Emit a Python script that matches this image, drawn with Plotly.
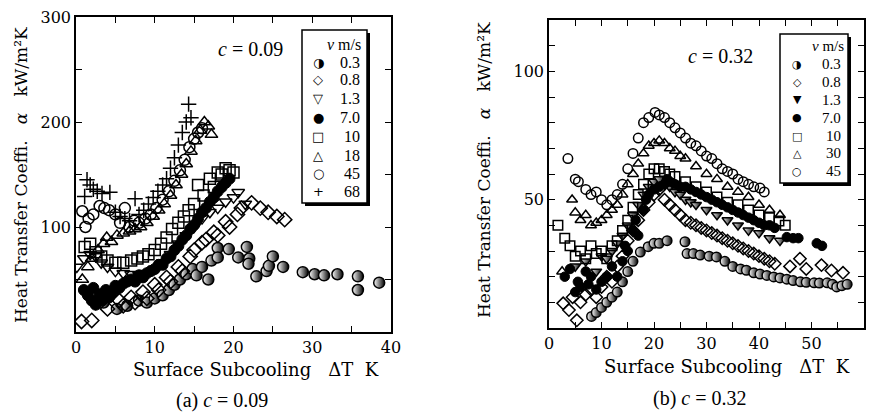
import plotly.graph_objects as go

W, H = 874, 414

# ---------------- Panel (a): c = 0.09 ----------------
a_v03_x = [3.5, 5.2, 6.5, 8.0, 9.0, 10.0, 11.0, 11.8, 12.5, 13.2, 14.0, 14.8, 15.3, 16.0, 16.8, 17.2, 18.0, 18.0, 19.4, 20.6, 21.7, 22.0, 21.9, 22.9, 24.2, 24.5, 25.0, 26.3, 28.8, 30.3, 31.5, 33.2, 35.8, 35.8, 38.5]
a_v03_y = [28, 22, 25, 30, 28, 32, 35, 40, 45, 50, 55, 60, 54, 62, 50, 68, 80, 71, 79, 71, 81, 70, 65, 53, 58, 63, 72, 62, 57, 55, 54, 55, 53, 40, 47]

a_v08_x = [0.7, 2.0, 2.5, 3.2, 4.0, 4.5, 5.5, 6.0, 7.0, 7.5, 8.5, 9.0, 10.0, 10.5, 11.5, 12.0, 13.0, 13.5, 14.5, 15.0, 16.0, 16.5, 17.5, 18.0, 19.0, 19.5, 20.5, 21.0, 22.3, 23.4, 24.4, 25.5, 26.5]
a_v08_y = [10, 11, 28, 32, 22, 36, 30, 25, 33, 28, 38, 32, 45, 40, 52, 48, 62, 58, 72, 78, 85, 88, 95, 92, 105, 100, 112, 118, 123, 118, 114, 110, 107]

a_v13_x = [0.1, 1.0, 1.8, 2.5, 3.2, 4.0, 5.0, 6.0, 7.0, 8.0, 9.0, 10.0, 11.0, 12.0, 13.0, 14.0, 15.0, 16.0, 17.0, 18.0, 19.0, 20.0, 20.6, 21.5]
a_v13_y = [62, 70, 74, 72, 66, 62, 58, 56, 55, 54, 56, 60, 66, 74, 84, 92, 100, 108, 114, 118, 124, 128, 133, 122]

a_v70_x = [1.0, 1.5, 2.0, 2.2, 2.5, 3.0, 3.3, 3.8, 4.2, 4.6, 5.0, 5.5, 6.0, 6.5, 7.0, 7.5, 8.0, 8.5, 9.0, 9.5, 10.0, 10.5, 11.0, 11.5, 12.0, 12.5, 13.0, 13.5, 14.0, 14.5, 15.0, 15.5, 16.0, 16.5, 17.0, 17.5, 18.0, 18.5, 19.0, 19.5]
a_v70_y = [40, 35, 30, 42, 26, 36, 30, 40, 33, 38, 44, 42, 46, 48, 50, 48, 54, 52, 56, 58, 60, 64, 64, 70, 72, 78, 82, 88, 92, 98, 102, 108, 114, 118, 124, 128, 134, 138, 142, 146]

a_v10_x = [1.1, 1.8, 2.5, 3.2, 4.0, 5.0, 6.0, 7.0, 7.8, 8.5, 9.2, 10.0, 10.8, 11.5, 12.2, 13.0, 13.7, 14.3, 15.0, 15.5, 16.2, 17.0, 17.5, 18.0, 18.5, 19.0, 19.5, 20.0]
a_v10_y = [81, 84, 76, 72, 68, 66, 66, 68, 70, 72, 74, 78, 84, 90, 98, 104, 110, 116, 122, 140, 130, 146, 138, 152, 150, 156, 154, 152]

a_v18_x = [0.8, 1.5, 2.0, 2.8, 3.5, 3.9, 4.5, 5.2, 6.0, 6.8, 7.5, 8.2, 9.0, 9.8, 10.5, 11.2, 12.0, 12.7, 13.4, 14.0, 14.6, 15.2, 15.8, 16.3, 16.8, 17.2]
a_v18_y = [50, 62, 70, 78, 84, 90, 86, 92, 94, 96, 98, 100, 104, 110, 116, 122, 130, 140, 150, 160, 172, 182, 192, 200, 196, 188]

a_v45_x = [0.8, 1.2, 1.6, 2.2, 3.0, 3.6, 4.2, 5.0, 5.6, 6.2, 6.8, 7.4, 8.0, 8.8, 9.5, 10.2, 11.0, 11.8, 12.5, 13.2, 13.8, 14.4, 15.0, 15.5, 16.0]
a_v45_y = [115, 100, 108, 112, 120, 118, 116, 112, 104, 118, 100, 106, 104, 108, 112, 118, 126, 134, 144, 154, 164, 176, 184, 190, 194]

a_v68_x = [1.1, 1.4, 1.8, 2.2, 2.7, 3.3, 4.3, 5.0, 5.6, 6.2, 6.8, 7.5, 8.0, 8.6, 9.2, 9.8, 10.4, 11.0, 11.5, 12.0, 12.5, 13.0, 13.5, 14.0, 14.3, 14.6]
a_v68_y = [129, 145, 140, 136, 134, 132, 133, 114, 110, 108, 106, 127, 112, 116, 122, 128, 134, 140, 146, 156, 166, 178, 190, 200, 217, 204]

# ---------------- Panel (b): c = 0.32 ----------------
b_v03_x = [8.1, 9.0, 10.0, 11.0, 12.0, 13.0, 14.0, 15.0, 16.0, 17.4, 18.9, 20.0, 21.0, 22.5, 25.9, 26.3, 27.5, 28.8, 30.5, 31.9, 33.5, 35.0, 36.5, 37.6, 39.0, 40.2, 41.5, 42.8, 44.0, 45.3, 46.5, 47.9, 49.0, 50.5, 51.5, 53.0, 54.0, 54.8, 55.8, 56.8]
b_v03_y = [4.5, 6, 8, 10, 12, 14, 18, 22, 26, 29.6, 31.7, 33, 33, 34, 33.6, 29, 29, 28.4, 28, 27.7, 26, 24, 23, 22.5, 21.5, 21, 20.5, 19.9, 19.5, 19, 18.5, 18, 17.8, 17.6, 17.5, 17.6, 17, 16, 16.5, 17]

b_v08_x = [2.7, 3.8, 5.3, 4.5, 6.0, 7.0, 8.0, 9.0, 10.0, 11.0, 12.0, 13.0, 14.0, 15.0, 16.0, 17.0, 18.0, 19.0, 20.0, 21.0, 22.0, 23.0, 24.0, 25.0, 26.0, 27.0, 28.0, 29.0, 30.0, 31.0, 32.0, 33.0, 34.0, 35.0, 36.0, 37.0, 38.0, 39.0, 40.0, 41.0, 42.0, 43.0, 45.9, 47.8, 49.0, 51.9, 53.8, 56.0]
b_v08_y = [9.6, 7, 3, 12, 10, 13, 15, 12, 16, 20, 18, 24, 28, 34, 38, 42, 46, 49, 52, 54, 50, 48, 46, 44, 42, 41, 40, 39, 38, 37, 36, 35, 34, 33, 32, 31, 30, 29, 28, 27, 26, 25, 24, 27, 23, 24.5, 22.4, 21.5]

b_v13_x = [5, 7, 9, 10, 11, 12, 13, 14, 15, 16, 17, 18, 19, 20, 21, 22, 23, 24, 25, 26, 27, 28, 30, 32, 34, 36, 38, 40, 42, 44]
b_v13_y = [24, 26, 22, 28, 27, 30, 33, 36, 40, 44, 48, 52, 55, 57, 58, 56, 55, 53, 52, 50, 49, 48, 46, 44, 42, 40, 38, 37, 35, 34]

b_v70_x = [3.0, 4.0, 5.0, 5.5, 6.0, 7.0, 7.5, 8.0, 9.0, 10.0, 11.0, 12.0, 13.0, 14.0, 14.5, 15.0, 16.0, 16.5, 17.0, 18.0, 18.5, 19.0, 20.0, 21.0, 22.0, 22.5, 23.0, 24.0, 25.0, 26.0, 27.0, 28.0, 29.0, 30.0, 31.0, 32.0, 33.0, 34.0, 35.0, 36.0, 37.0, 38.0, 39.0, 40.0, 41.0, 42.0, 43.0, 45.3, 46.5, 47.5, 51.0, 52.0]
b_v70_y = [20, 23, 14, 18, 16, 22, 17, 20, 15, 18, 20, 24, 20, 26, 32, 30, 38, 42, 36, 46, 50, 52, 54, 55, 56, 58, 57, 56, 55, 55, 54, 53, 52, 51, 50, 49, 48, 47, 46, 45, 44, 43, 42, 41, 40, 40, 39, 35.4, 35, 35, 33, 32]

b_v10_x = [1.7, 3.0, 4.0, 5.0, 6.0, 7.0, 8.0, 9.0, 10.0, 11.0, 12.0, 13.0, 14.0, 15.0, 16.0, 17.0, 18.0, 19.0, 20.0, 21.0, 22.0, 23.0, 24.0, 26.0, 28.0, 30.0, 32.0, 34.0, 36.0, 38.0, 40.0, 42.0, 43.8, 45.0]
b_v10_y = [40, 35, 32, 28, 30, 27, 32, 29, 30, 27, 32, 34, 38, 42, 47, 52, 56, 60, 62, 62, 61, 60, 59, 57, 55, 53, 51, 49, 48, 46, 44, 43, 41.7, 40]

b_v30_x = [2.5, 4.4, 5.0, 6.0, 7.0, 8.0, 9.0, 10.0, 11.0, 12.0, 13.0, 14.0, 15.0, 16.0, 17.0, 18.0, 19.0, 20.0, 21.0, 22.0, 23.0, 24.0, 25.0, 26.0, 28.0, 30.0, 32.0, 34.0, 36.0, 38.0, 40.0, 42.0, 44.0]
b_v30_y = [22, 50, 45, 42, 44, 40, 41, 42, 44, 46, 48, 52, 56, 60, 64, 68, 71, 72, 73, 72, 70, 69, 67, 66, 63, 60, 58, 55, 53, 51, 48, 46, 44]

b_v45_x = [3.6, 5.0, 5.6, 7.0, 8.0, 9.0, 10.0, 11.0, 12.0, 13.0, 14.0, 15.0, 16.0, 17.0, 18.0, 19.0, 20.2, 21.0, 22.0, 23.0, 24.0, 25.0, 26.0, 27.0, 28.0, 29.0, 30.0, 31.0, 32.0, 33.0, 34.0, 35.0, 36.0, 37.0, 38.0, 39.0, 40.2, 41.0]
b_v45_y = [66, 58, 57, 54, 52, 53, 50, 48, 50, 52, 56, 62, 68, 74, 80, 82, 84, 83, 82, 80, 78, 76, 74, 72, 71, 69, 67, 66, 64, 62, 61, 60, 58, 57, 56, 55, 54.5, 53]

a_labels = ["0.3", "0.8", "1.3", "7.0", "10", "18", "45", "68"]
b_labels = ["0.3", "0.8", "1.3", "7.0", "10", "30", "45"]
a_glyphs = ["◑", "◇", "▽", "●", "□", "△", "○", "+"]
b_glyphs = ["◑", "◇", "▼", "●", "□", "△", "○"]

SERIF = "Liberation Serif"
WIDE = "DejaVu Serif"

def mk(symbol, size, kind):
    if kind == "half":
        return dict(symbol=symbol, size=size, color="white",
                    gradient=dict(type="horizontal", color="black"),
                    line=dict(color="black", width=1.5))
    if kind == "fill":
        return dict(symbol=symbol, size=size, color="black",
                    line=dict(color="black", width=1))
    return dict(symbol=symbol, size=size, color="black",
                line=dict(color="black", width=1.5))

a_series = [
    (a_v03_x, a_v03_y, "circle", "half"),
    (a_v08_x, a_v08_y, "diamond-open", "open"),
    (a_v13_x, a_v13_y, "triangle-down-open", "open"),
    (a_v70_x, a_v70_y, "circle", "fill"),
    (a_v10_x, a_v10_y, "square-open", "open"),
    (a_v18_x, a_v18_y, "triangle-up-open", "open"),
    (a_v45_x, a_v45_y, "circle-open", "open"),
    (a_v68_x, a_v68_y, "cross-thin-open", "open"),
]
b_series = [
    (b_v03_x, b_v03_y, "circle", "half"),
    (b_v08_x, b_v08_y, "diamond-open", "open"),
    (b_v13_x, b_v13_y, "triangle-down", "half"),
    (b_v70_x, b_v70_y, "circle", "fill"),
    (b_v10_x, b_v10_y, "square-open", "open"),
    (b_v30_x, b_v30_y, "triangle-up-open", "open"),
    (b_v45_x, b_v45_y, "circle-open", "open"),
]

fig = go.Figure()
for (xs, ys, sym, kind), lab in zip(a_series, a_labels):
    fig.add_trace(go.Scatter(x=xs, y=ys, mode="markers", name="v = " + lab + " m/s",
                             marker=mk(sym, 11, kind), xaxis="x", yaxis="y",
                             showlegend=False))
for (xs, ys, sym, kind), lab in zip(b_series, b_labels):
    fig.add_trace(go.Scatter(x=xs, y=ys, mode="markers", name="v = " + lab + " m/s",
                             marker=mk(sym, 9.5, kind), xaxis="x2", yaxis="y2",
                             showlegend=False))

def px(x):
    return x / W

def py(y):
    return 1 - y / H

axis_common = dict(showline=True, linecolor="black", linewidth=1.5, mirror="allticks",
                   ticks="inside", ticklen=6, tickwidth=1.3, tickcolor="black",
                   showgrid=False, zeroline=False, automargin=False,
                   tickfont=dict(family=WIDE, size=16, color="black"))
minor_common = dict(ticks="inside", ticklen=6, tickcolor="black", tickwidth=1.3, showgrid=False)

fig.update_layout(
    width=W, height=H, margin=dict(l=0, r=0, t=0, b=0, autoexpand=False),
    paper_bgcolor="white", plot_bgcolor="white", showlegend=False,
    xaxis=dict(domain=[px(76), px(391)], range=[0, 40], tickvals=[0, 10, 20, 30, 40],
               minor=dict(dtick=5, **minor_common), anchor="y", **axis_common),
    yaxis=dict(domain=[py(332), py(17)], range=[0, 300], tickvals=[100, 200, 300],
               minor=dict(dtick=50, **minor_common), anchor="x", **axis_common),
    xaxis2=dict(domain=[px(549), px(864)], range=[0, 60], tickvals=[0, 10, 20, 30, 40, 50, 60],
                minor=dict(dtick=5, **minor_common), anchor="y2", **axis_common),
    yaxis2=dict(domain=[py(328), py(20)], range=[0, 120], tickvals=[50, 100],
                minor=dict(dtick=10, **minor_common), anchor="x2", **axis_common),
)

ann = []
def add_text(text, x, y, size, family=SERIF, angle=0, xanchor="center"):
    ann.append(dict(text=text, x=px(x), y=py(y), xref="paper", yref="paper",
                    showarrow=False, textangle=angle, xanchor=xanchor, yanchor="middle",
                    font=dict(family=family, size=size, color="black")))

shapes = []
def legend_box(x0, y0, x1, y1):
    # shadow
    shapes.append(dict(type="rect", xref="paper", yref="paper",
                       x0=px(x0 + 3), x1=px(x1 + 3), y0=py(y1 + 3), y1=py(y0 + 3),
                       fillcolor="black", line=dict(width=0), layer="above"))
    shapes.append(dict(type="rect", xref="paper", yref="paper",
                       x0=px(x0), x1=px(x1), y0=py(y1), y1=py(y0),
                       fillcolor="white", line=dict(color="black", width=1.5), layer="above"))

legend_box(302, 30, 367, 203)
legend_box(780, 34, 848, 183)

# legend (a)
add_text("<i>v</i> m/s", 363, 44, 16, SERIF, 0, "right")
a_rows = [62, 80, 99, 118, 136, 155, 173, 191]
for g, lab, yy in zip(a_glyphs, a_labels, a_rows):
    add_text(g, 318, yy, 13, "DejaVu Sans")
    add_text(lab, 362, yy, 16, SERIF, 0, "right")

# legend (b)
add_text("<i>v</i> m/s", 846, 46, 15, SERIF, 0, "right")
b_rows = [64, 82, 100, 118, 136, 153, 171]
for g, lab, yy in zip(b_glyphs, b_labels, b_rows):
    add_text(g, 797, yy, 11, "DejaVu Sans")
    add_text(lab, 843, yy, 15, SERIF, 0, "right")

sp = "\u00a0\u00a0\u00a0"
add_text("<i>c</i> = 0.09", 250, 49, 20)
add_text("<i>c</i> = 0.32", 720, 56, 20)
add_text("Heat Transfer Coeffi." + sp + "<i>α</i>" + sp + "kW/m²K", 21, 175, 17, WIDE, -90)
add_text("Heat Transfer Coeffi." + sp + "<i>α</i>" + sp + "kW/m²K", 484, 170, 17, WIDE, -90)
add_text("Surface Subcooling" + sp + "ΔT" + "\u00a0\u00a0" + "K", 256, 369, 18, WIDE)
add_text("Surface Subcooling" + sp + "ΔT" + "\u00a0\u00a0" + "K", 727, 366, 18, WIDE)
add_text("(a) <i>c</i> = 0.09", 222, 400, 20)
add_text("(b) <i>c</i> = 0.32", 700, 398, 20)
fig.update_layout(annotations=ann, shapes=shapes)

fig.write_html("out.html", config={"displayModeBar": False},
               post_script="document.body.style.margin='0';document.body.style.overflow='hidden';")
